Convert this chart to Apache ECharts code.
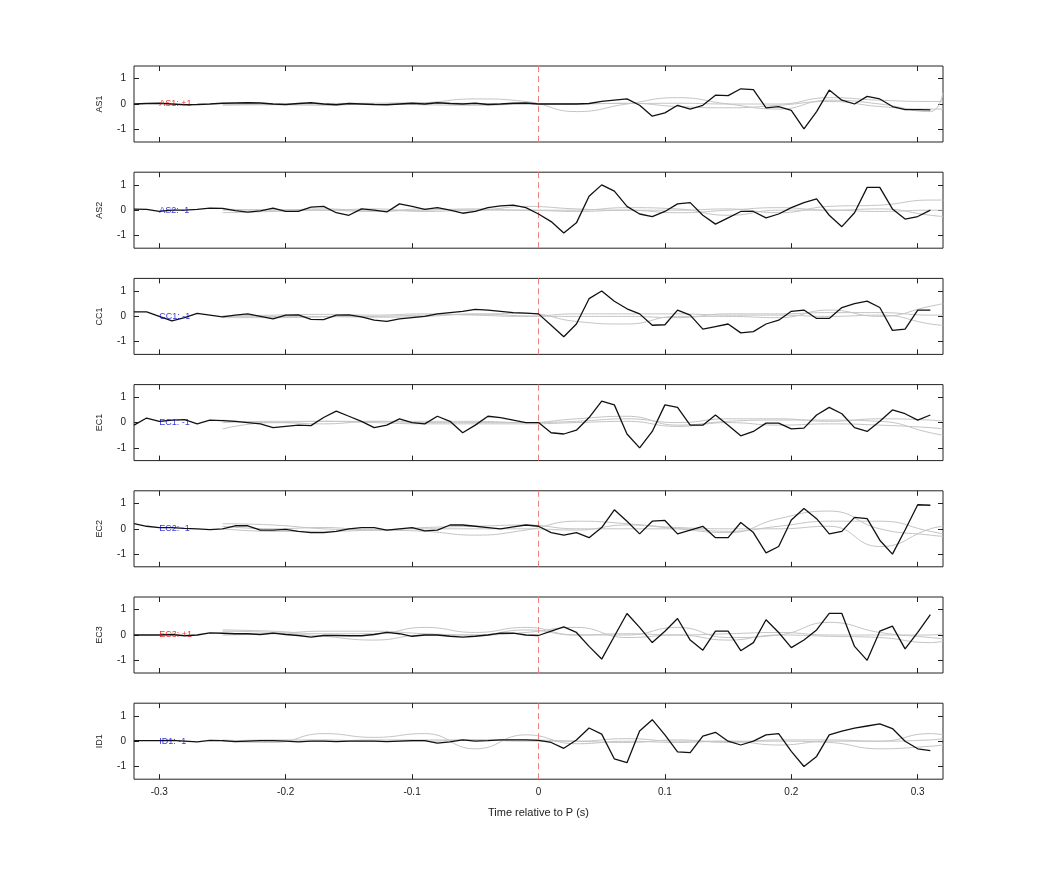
<!DOCTYPE html>
<html>
<head>
<meta charset="utf-8">
<script src="https://cdn.jsdelivr.net/npm/echarts@6/dist/echarts.min.js"></script>
<style>html,body{margin:0;background:#fff}#chart{width:1042px;height:875px}</style>
</head>
<body>
<div id="chart"></div>
<script>
// station names, polarity labels
var stations = ['AS1', 'AS2', 'CC1', 'EC1', 'EC2', 'EC3', 'ID1']
var polarity = ['+1', '-1', '-1', '-1', '-1', '+1', '-1']
var xTicks = [-0.3, -0.2, -0.1, 0, 0.1, 0.2, 0.3]
var yTicks = [-1, 0, 1]

// black trace, -0.32 .. 0.31 every 0.01 s
var as1 = [0.0, 0.02, 0.03, 0.0, -0.03, -0.02, 0.0, 0.03, 0.04, 0.05, 0.04, 0.0, -0.02, 0.02, 0.05, 0.0,
  -0.03, 0.02, 0.0, -0.02, -0.03, 0.0, 0.03, 0.0, 0.05, 0.02, 0.0, 0.03, -0.02, 0.0, 0.03, 0.04,
  0.0, 0.0, 0.0, 0.0, 0.02, 0.1, 0.15, 0.2, -0.05, -0.48, -0.35, -0.05, -0.2, -0.05,
  0.35, 0.33, 0.6, 0.57, -0.15, -0.1, -0.25, -0.98, -0.3, 0.55, 0.15, 0.0, 0.3, 0.2, -0.1, -0.22, -0.22, -0.23]
var as2 = [0.04, 0.03, -0.05, 0.0, 0.0, 0.03, 0.08, 0.07, -0.02, -0.08, -0.03, 0.08, -0.05, -0.05, 0.12, 0.15,
  -0.1, -0.2, 0.05, 0.0, -0.07, 0.25, 0.15, 0.03, 0.1, 0.0, -0.12, -0.05, 0.1, 0.17, 0.2, 0.1,
  -0.15, -0.45, -0.9, -0.5, 0.55, 1.0, 0.75, 0.15, -0.15, -0.25, -0.05, 0.25, 0.3, -0.2, -0.55, -0.3,
  -0.05, -0.05, -0.3, -0.15, 0.1, 0.3, 0.45, -0.2, -0.65, -0.1, 0.9, 0.9, 0.05, -0.35, -0.25, 0.0]
var cc1 = [0.18, 0.18, 0.0, -0.18, -0.05, 0.12, 0.05, -0.02, 0.05, 0.1, 0.0, -0.1, 0.05, 0.06, -0.12, -0.13,
  0.05, 0.06, -0.02, -0.15, -0.2, -0.1, -0.05, 0.0, 0.1, 0.15, 0.2, 0.28, 0.25, 0.2, 0.15, 0.13,
  0.1, -0.35, -0.8, -0.3, 0.7, 1.0, 0.6, 0.3, 0.1, -0.35, -0.33, 0.25, 0.05, -0.5, -0.4, -0.3,
  -0.65, -0.6, -0.3, -0.15, 0.2, 0.25, -0.08, -0.08, 0.35, 0.5, 0.6, 0.35, -0.55, -0.5, 0.25, 0.25]
var ec1 = [-0.1, 0.18, 0.05, 0.1, 0.12, -0.05, 0.1, 0.08, 0.05, 0.0, -0.05, -0.2, -0.15, -0.1, -0.12, 0.2,
  0.45, 0.25, 0.05, -0.2, -0.1, 0.15, 0.0, -0.05, 0.25, 0.05, -0.4, -0.1, 0.25, 0.2, 0.1, 0.0,
  0.0, -0.4, -0.45, -0.3, 0.2, 0.85, 0.7, -0.45, -1.0, -0.35, 0.7, 0.6, -0.1, -0.1, 0.3, -0.1,
  -0.52, -0.35, -0.02, -0.02, -0.25, -0.22, 0.3, 0.6, 0.35, -0.2, -0.35, 0.05, 0.5, 0.35, 0.1, 0.3]
var ec2 = [0.2, 0.1, 0.05, 0.05, 0.02, 0.0, -0.03, 0.0, 0.12, 0.12, -0.05, -0.05, -0.02, -0.1, -0.15, -0.15,
  -0.1, 0.0, 0.05, 0.05, -0.05, 0.0, 0.05, -0.08, -0.05, 0.15, 0.15, 0.1, 0.05, 0.0, 0.08, 0.15,
  0.1, -0.15, -0.25, -0.15, -0.35, 0.05, 0.75, 0.3, -0.2, 0.3, 0.33, -0.2, -0.05, 0.1, -0.35, -0.35,
  0.25, -0.15, -0.95, -0.7, 0.35, 0.8, 0.4, -0.2, -0.1, 0.45, 0.4, -0.45, -1.0, -0.05, 0.95, 0.93]
var ec3 = [0.0, 0.0, 0.0, 0.02, -0.03, 0.0, 0.08, 0.07, 0.05, 0.05, 0.02, 0.07, 0.02, -0.02, -0.08, -0.02,
  -0.02, -0.03, -0.03, 0.02, 0.1, 0.05, -0.05, 0.0, 0.0, -0.05, -0.08, -0.05, 0.0, 0.07, 0.07, 0.0,
  -0.02, 0.15, 0.32, 0.1, -0.45, -0.95, -0.05, 0.85, 0.3, -0.3, 0.15, 0.65, -0.2, -0.6, 0.15, 0.15,
  -0.62, -0.3, 0.6, 0.1, -0.5, -0.2, 0.2, 0.85, 0.85, -0.45, -1.0, 0.15, 0.35, -0.55, 0.1, 0.8]
var id1 = [0.02, 0.02, 0.02, 0.03, 0.0, -0.03, 0.03, 0.02, -0.02, 0.0, 0.02, 0.02, 0.0, -0.03, 0.0, 0.0,
  -0.02, 0.0, 0.0, 0.0, -0.02, 0.0, 0.02, 0.02, -0.08, -0.03, 0.05, 0.0, 0.02, 0.05, 0.05, 0.05,
  0.03, -0.05, -0.28, 0.05, 0.52, 0.28, -0.7, -0.85, 0.4, 0.85, 0.25, -0.42, -0.45, 0.2, 0.35, 0.0,
  -0.15, 0.0, 0.25, 0.3, -0.4, -1.0, -0.6, 0.25, 0.4, 0.52, 0.6, 0.68, 0.5, 0.0, -0.3, -0.37]
var blacks = [as1, as2, cc1, ec1, ec2, ec3, id1]

// grey traces, sampled at gx
var gx = [-0.25, -0.21, -0.17, -0.13, -0.09, -0.05, -0.01, 0.03, 0.07, 0.11, 0.15, 0.19, 0.23, 0.27, 0.31, 0.32]
var greys = [
  [[0, -0.02, 0.0, -0.02, 0.05, 0.2, 0.1, -0.3, 0.0, 0.25, 0.0, -0.2, 0.15, 0.0, -0.3, 0.45],
   [-0.05, -0.03, -0.05, 0.0, -0.03, -0.05, 0.0, 0.02, 0.02, 0.03, 0.0, 0.0, 0.25, 0.15, 0.1, 0.1],
   [0.0, 0.0, 0.02, 0.03, 0.05, 0.02, 0.0, 0.0, 0.03, -0.1, -0.15, -0.05, 0.1, -0.1, -0.2, -0.2]],
  [[-0.1, -0.05, 0.0, -0.05, 0.05, 0.0, 0.15, 0.05, 0.0, 0.0, 0.05, -0.1, 0.15, 0.2, 0.4, 0.4],
   [0.05, 0.0, 0.05, -0.03, 0.0, 0.05, 0.0, 0.0, 0.1, 0.05, -0.2, 0.0, 0.0, -0.05, 0.0, 0.0],
   [0.0, 0.02, 0.0, 0.05, -0.05, 0.0, 0.0, -0.05, 0.0, -0.1, 0.0, 0.1, 0.0, 0.05, -0.2, -0.25]],
  [[-0.05, -0.05, -0.02, 0.0, 0.05, 0.08, 0.12, -0.2, -0.3, 0.0, 0.0, -0.05, 0.25, 0.0, 0.4, 0.5],
   [0.0, 0.05, 0.08, 0.05, 0.1, 0.05, 0.0, 0.1, 0.1, 0.1, 0.05, 0.05, 0.0, 0.05, -0.3, -0.35],
   [0.02, 0.0, 0.0, -0.03, 0.0, 0.1, 0.02, 0.0, 0.0, -0.05, 0.1, 0.1, 0.15, 0.15, 0.05, 0.05]],
  [[-0.25, 0.0, -0.05, 0.05, 0.0, 0.0, 0.0, 0.15, 0.25, -0.1, 0.05, 0.1, 0.1, 0.05, -0.4, -0.5],
   [0.1, 0.0, 0.05, 0.05, 0.05, 0.05, 0.0, 0.05, 0.15, 0.0, 0.15, 0.15, 0.05, 0.15, 0.1, 0.05],
   [0.0, 0.05, 0.05, 0.0, -0.05, -0.05, -0.05, 0.0, 0.05, -0.15, 0.0, -0.1, -0.05, -0.1, -0.2, -0.25]],
  [[0.2, 0.15, 0.0, -0.05, -0.1, -0.25, -0.05, 0.3, 0.2, 0.0, -0.15, 0.4, 0.7, 0.0, -0.25, -0.3],
   [0.0, -0.1, -0.1, -0.05, 0.0, 0.0, 0.0, -0.05, 0.15, 0.05, 0.0, 0.0, 0.1, -0.7, 0.0, 0.1],
   [0.1, 0.0, 0.05, -0.05, 0.05, 0.1, 0.15, 0.0, 0.0, 0.0, -0.1, 0.1, 0.3, 0.3, -0.1, -0.2]],
  [[0.2, 0.15, 0.05, 0.05, 0.3, 0.1, 0.3, 0.0, 0.0, 0.3, -0.1, 0.0, 0.5, 0.1, -0.1, -0.15],
   [0.15, 0.1, -0.05, -0.2, 0.0, 0.0, 0.1, 0.3, -0.1, 0.0, -0.2, 0.0, -0.05, -0.1, -0.3, -0.25],
   [0.0, 0.05, 0.15, 0.15, 0.05, 0.0, 0.2, 0.0, 0.05, 0.0, 0.05, 0.1, 0.0, 0.0, 0.0, 0.05]],
  [[0.0, -0.05, 0.3, 0.15, 0.3, -0.3, 0.25, -0.1, 0.0, -0.05, 0.0, -0.15, 0.0, 0.0, 0.3, 0.25],
   [0.0, 0.05, 0.05, 0.0, 0.0, 0.05, 0.0, 0.0, 0.1, 0.0, 0.0, 0.0, -0.05, -0.3, -0.2, -0.15],
   [0.05, 0.0, 0.0, 0.05, 0.05, 0.05, 0.05, 0.0, -0.05, 0.05, -0.05, 0.05, 0.05, 0.0, 0.05, 0.1]]
]

var tx = []
for (var i = 0; i < 64; i++) tx.push(+(-0.32 + i * 0.01).toFixed(2))

var tick = {inside: true, length: 5, lineStyle: {color: '#222'}}
var noLine = {show: false, onZero: false}
var grid = [], xAxis = [], yAxis = [], series = []
stations.forEach(function (st, k) {
  var top = 66 + k * 106.2
  var last = k === stations.length - 1
  grid.push({left: 134, right: 99, top: top, height: 76, show: true, borderColor: '#222', borderWidth: 1})
  // bottom/left axes + mirrored top/right for inward ticks on every side
  xAxis.push({
    type: 'value', gridIndex: k, min: -0.32, max: 0.32, position: 'bottom',
    axisLine: noLine, splitLine: {show: false},
    axisTick: Object.assign({customValues: xTicks}, tick),
    axisLabel: {show: last, customValues: xTicks, color: '#222', fontSize: 10, fontFamily: 'Liberation Sans', margin: 8},
    name: last ? 'Time relative to P (s)' : '', nameLocation: 'middle', nameGap: 28,
    nameTextStyle: {color: '#222', fontSize: 11, fontFamily: 'Liberation Sans'}
  })
  xAxis.push({
    type: 'value', gridIndex: k, min: -0.32, max: 0.32, position: 'top',
    axisLine: noLine, splitLine: {show: false}, axisLabel: {show: false},
    axisTick: Object.assign({customValues: xTicks}, tick)
  })
  yAxis.push({
    type: 'value', gridIndex: k, min: -1.5, max: 1.5, position: 'left',
    axisLine: noLine, splitLine: {show: false},
    axisTick: Object.assign({customValues: yTicks}, tick),
    axisLabel: {customValues: yTicks, color: '#222', fontSize: 10, fontFamily: 'Liberation Sans', margin: 8},
    name: st, nameLocation: 'middle', nameRotate: 90, nameGap: 30,
    nameTextStyle: {color: '#222', fontSize: 9, fontFamily: 'Liberation Sans'}
  })
  yAxis.push({
    type: 'value', gridIndex: k, min: -1.5, max: 1.5, position: 'right',
    axisLine: noLine, splitLine: {show: false}, axisLabel: {show: false},
    axisTick: Object.assign({customValues: yTicks}, tick)
  })
  greys[k].forEach(function (g) {
    series.push({
      type: 'line', xAxisIndex: 2 * k, yAxisIndex: 2 * k, smooth: true, symbol: 'none', silent: true,
      lineStyle: {color: '#c4c4c4', width: 1},
      data: gx.map(function (x, i) { return [x, g[i]] })
    })
  })
  series.push({
    type: 'line', xAxisIndex: 2 * k, yAxisIndex: 2 * k, symbol: 'none', z: 5,
    lineStyle: {color: '#111', width: 1.3},
    data: tx.map(function (x, i) { return [x, blacks[k][i]] }),
    markLine: {
      silent: true, symbol: 'none', label: {show: false},
      lineStyle: {color: '#f08080', type: [6, 4], width: 1},
      data: [{xAxis: 0}]
    }
  })
  series.push({
    type: 'scatter', xAxisIndex: 2 * k, yAxisIndex: 2 * k, symbolSize: 0, z: 6,
    data: [[-0.3, 0]],
    label: {
      show: true, position: 'right', distance: 0, formatter: st + ': ' + polarity[k],
      color: polarity[k] === '+1' ? '#e00' : '#00c', fontSize: 9, fontFamily: 'Liberation Sans'
    }
  })
})

var chart = echarts.init(document.getElementById('chart'))
chart.setOption({animation: false, backgroundColor: '#fff', grid: grid, xAxis: xAxis, yAxis: yAxis, series: series})
</script>
</body>
</html>
